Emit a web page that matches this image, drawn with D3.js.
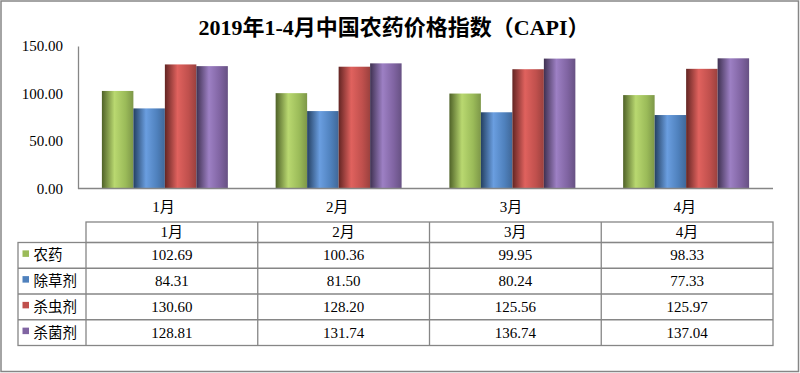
<!DOCTYPE html>
<html>
<head>
<meta charset="utf-8">
<script src="https://cdn.jsdelivr.net/npm/d3@7"></script>
<style>
  body { margin: 0; background: #fff; }
  text { font-family: "Liberation Serif", "Noto Sans CJK SC", serif; fill: #000; }
</style>
</head>
<body>
<div id="chart"></div>
<script>
const months = ["1月", "2月", "3月", "4月"];
const series = ["农药", "除草剂", "杀虫剂", "杀菌剂"];
const pesticide = [102.69, 100.36, 99.95, 98.33];
const herbicide = [84.31, 81.50, 80.24, 77.33];
const insecticide = [130.60, 128.20, 125.56, 125.97];
const fungicide = [128.81, 131.74, 136.74, 137.04];
const yTicks = [0, 50, 100, 150];

const width = 800;
const height = 373;
const plot = { left: 78, right: 773, top: 46, bottom: 188.5 };
const table = { left: 18, colStart: 86, right: 773, top: 222, headH: 20.5, rowH: 25.75 };

// base, highlight, shadow
const palette = [
    ["#9bbb59", "#b9d870", "#4f6228"],
    ["#4f81bd", "#6a9ee0", "#244062"],
    ["#c0504d", "#e0625e", "#632523"],
    ["#8064a2", "#9d80c4", "#3f3151"]
];

const seriesData = [pesticide, herbicide, insecticide, fungicide];

const svg = d3.select("#chart")
    .append("svg")
    .attr("width", width)
    .attr("height", height);

// gradients for the shaded bars
const defs = svg.append("defs");
palette.forEach((c, i) => {
    const g = defs.append("linearGradient")
        .attr("id", "grad" + i)
        .attr("x1", 0).attr("x2", 1).attr("y1", 0).attr("y2", 0);
    g.append("stop").attr("offset", "0%").attr("stop-color", c[2]);
    g.append("stop").attr("offset", "40%").attr("stop-color", c[1]);
    g.append("stop").attr("offset", "75%").attr("stop-color", c[0]);
    g.append("stop").attr("offset", "100%").attr("stop-color", d3.color(c[0]).darker(0.6));
});

// outer frame
svg.append("rect")
    .attr("x", 1).attr("y", 1)
    .attr("width", width - 2.5).attr("height", height - 2.5)
    .attr("fill", "none")
    .attr("stroke", "#868686")
    .attr("stroke-width", 1.5);

svg.append("text")
    .attr("x", 394)
    .attr("y", 35)
    .attr("text-anchor", "middle")
    .style("font-size", "22px")
    .style("font-weight", "bold")
    .text("2019年1-4月中国农药价格指数（CAPI）");

const x = d3.scaleBand()
    .domain(months)
    .range([plot.left, plot.right])
    .paddingInner(0.275)
    .paddingOuter(0.1375);

const xSub = d3.scaleBand()
    .domain(series)
    .range([0, x.bandwidth()]);

const y = d3.scaleLinear()
    .domain([0, 150])
    .range([plot.bottom, plot.top]);

const bars = [];
months.forEach((m, mi) => {
    series.forEach((s, si) => {
        bars.push({ month: m, s: s, si: si, value: seriesData[si][mi] });
    });
});

svg.append("g")
    .selectAll("rect")
    .data(bars)
    .join("rect")
    .attr("x", d => x(d.month) + xSub(d.s))
    .attr("y", d => y(d.value))
    .attr("width", xSub.bandwidth())
    .attr("height", d => y(0) - y(d.value))
    .attr("fill", d => `url(#grad${d.si})`);

// y axis
const yAxis = svg.append("g")
    .attr("transform", `translate(${plot.left},0)`)
    .call(d3.axisLeft(y).tickValues(yTicks).tickFormat(d3.format(".2f")).tickSize(0).tickPadding(15));
yAxis.select(".domain").attr("stroke", "#868686").attr("stroke-width", 1.3);
yAxis.selectAll("text").style("font-size", "15px").style("font-family", "Liberation Serif");

// x axis
const xAxis = svg.append("g")
    .attr("transform", `translate(0,${plot.bottom})`)
    .call(d3.axisBottom(x).tickSize(0).tickPadding(13).tickSizeOuter(0));
xAxis.select(".domain").attr("stroke", "#868686").attr("stroke-width", 1.3)
    .attr("d", `M${plot.left},0H${plot.right}`);
xAxis.selectAll("text").style("font-size", "15px").attr("dx", -1.5);

// data table
const tx = d3.scaleBand()
    .domain(months)
    .range([table.colStart, table.right]);

const tg = svg.append("g")
    .attr("fill", "none")
    .attr("stroke", "#868686")
    .attr("stroke-width", 1.3);

const tableBottom = table.top + table.headH + table.rowH * series.length;
const rowTop = i => table.top + table.headH + i * table.rowH;

// header row
tg.append("rect")
    .attr("x", table.colStart).attr("y", table.top)
    .attr("width", table.right - table.colStart).attr("height", table.headH);
// body
tg.append("rect")
    .attr("x", table.left).attr("y", rowTop(0))
    .attr("width", table.right - table.left).attr("height", tableBottom - rowTop(0));
tg.selectAll("line.h")
    .data(d3.range(1, series.length))
    .join("line")
    .attr("class", "h")
    .attr("x1", table.left).attr("x2", table.right)
    .attr("y1", d => rowTop(d)).attr("y2", d => rowTop(d));
tg.selectAll("line.v")
    .data(months)
    .join("line")
    .attr("class", "v")
    .attr("x1", d => tx(d)).attr("x2", d => tx(d))
    .attr("y1", (d, i) => i === 0 ? rowTop(0) : table.top)
    .attr("y2", tableBottom);

svg.append("g")
    .selectAll("text")
    .data(months)
    .join("text")
    .attr("x", d => tx(d) + tx.bandwidth() / 2)
    .attr("y", table.top + table.headH / 2 + 5)
    .attr("text-anchor", "middle")
    .style("font-size", "15px")
    .text(d => d);

const rows = svg.append("g")
    .selectAll("g")
    .data(series)
    .join("g")
    .attr("transform", (d, i) => `translate(0,${rowTop(i) + table.rowH / 2})`);

rows.append("rect")
    .attr("x", 22.5).attr("y", -5)
    .attr("width", 6.5).attr("height", 6.5)
    .attr("fill", (d, i) => palette[i][0]);

rows.append("text")
    .attr("x", 33.5)
    .attr("y", 5)
    .style("font-size", "14.5px")
    .style("font-family", "Noto Sans CJK SC")
    .text(d => d);

rows.selectAll("text.v")
    .data((d, i) => seriesData[i].map((v, mi) => ({ month: months[mi], v: v })))
    .join("text")
    .attr("class", "v")
    .attr("x", d => tx(d.month) + tx.bandwidth() / 2)
    .attr("y", 5)
    .attr("text-anchor", "middle")
    .style("font-size", "15px")
    .text(d => d3.format(".2f")(d.v));
</script>
</body>
</html>
